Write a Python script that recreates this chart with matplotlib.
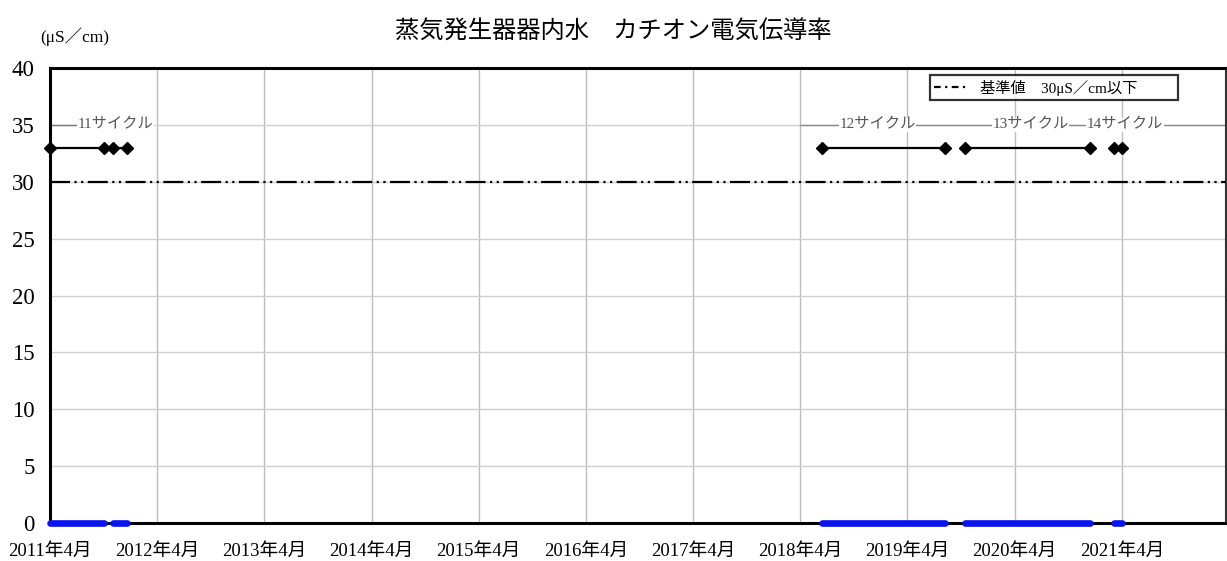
import matplotlib
matplotlib.use("Agg")
import matplotlib.pyplot as plt
import pandas as pd

# ---------------- data ----------------
title = "蒸気発生器器内水　カチオン電気伝導率"
unit_label = "(μS／cm)"
tick_dates = ["2011-04-01", "2012-04-01", "2013-04-01", "2014-04-01", "2015-04-01",
              "2016-04-01", "2017-04-01", "2018-04-01", "2019-04-01", "2020-04-01",
              "2021-04-01"]
tick_labels = ["2011年4月", "2012年4月", "2013年4月", "2014年4月", "2015年4月",
               "2016年4月", "2017年4月", "2018年4月", "2019年4月", "2020年4月",
               "2021年4月"]
y_ticks = [0, 5, 10, 15, 20, 25, 30, 35, 40]

cycle_names = ["11サイクル", "12サイクル", "13サイクル", "14サイクル"]
# operation periods (start, end) per cycle
periods_11 = [("2011-04-01", "2011-10-01"), ("2011-11-01", "2011-12-20")]
periods_12 = [("2018-06-14", "2019-08-07")]
periods_13 = [("2019-10-15", "2020-12-14")]
periods_14 = [("2021-03-06", "2021-04-03")]
cycle_periods = [periods_11, periods_12, periods_13, periods_14]

# measured cation conductivity during operation (at/near 0 μS/cm)
conductivity_value = 0.0
cycle_marker_level = 33
limit_value = 30
legend_label = "基準値　30μS／cm以下"

# ---------------- drawing ----------------
FAM = ["Liberation Serif", "Noto Sans CJK JP"]
plt.rcParams["font.family"] = FAM

W, H = 1227, 561
fig = plt.figure(figsize=(W / 100, H / 100), dpi=100)
ax_l, ax_r, ax_t, ax_b = 50, 1226, 68, 523
ax = fig.add_axes([ax_l / W, 1 - ax_b / H, (ax_r - ax_l) / W, (ax_b - ax_t) / H])

x0 = pd.Timestamp("2011-04-01")
x1 = pd.Timestamp("2022-03-22")
ax.set_xlim(x0, x1)
ax.set_ylim(0, 40)

ticks = [pd.Timestamp(d) for d in tick_dates]
ax.set_xticks(ticks)
ax.set_xticklabels(tick_labels, fontsize=13.5, family=FAM)
ax.set_yticks(y_ticks)
ax.set_yticklabels([str(v) for v in y_ticks], fontsize=16.5, family=FAM)
ax.tick_params(axis="both", length=0)
ax.tick_params(axis="x", pad=14)
ax.tick_params(axis="y", pad=11)

ax.grid(True, axis="x", color="#bdbdbd", lw=1.0, zorder=0)
ax.grid(True, axis="y", color="#cfcfcf", lw=1.0, zorder=0)
ax.set_axisbelow(True)

for side in ["left", "top", "bottom"]:
    ax.spines[side].set_linewidth(2.2)
    ax.spines[side].set_color("black")
ax.spines["right"].set_linewidth(1.5)
ax.spines["right"].set_color("#333333")

# limit line
ax.axhline(limit_value, color="black", lw=1.6,
           linestyle=(0, (9, 2, 1, 2, 1, 2)), zorder=3)
# legend handle (dash-dot)
ax.plot([], [], color="black", lw=1.6, linestyle=(0, (3, 2, 1, 2)),
        label=legend_label)

# cycle lines with diamonds and blue operation bars
for periods in cycle_periods:
    pts = []
    for s, e in periods:
        pts += [pd.Timestamp(s), pd.Timestamp(e)]
        ax.plot([pd.Timestamp(s), pd.Timestamp(e)],
                [conductivity_value, conductivity_value],
                color="#0a14f0", lw=4.8, solid_capstyle="round",
                clip_on=False, zorder=5)
    ax.plot(pts, [cycle_marker_level] * len(pts), color="black", lw=1.6,
            marker="D", markersize=6.5, clip_on=False, zorder=5)

# cycle labels on the 35 line
lab_col = "#555555"
ax.plot([x0, pd.Timestamp("2011-07-05")], [35, 35], color="#777777", lw=1.0, zorder=2)
ax.plot([pd.Timestamp("2018-04-01"), x1], [35, 35], color="#8a8a8a", lw=1.0, zorder=2)
label_pos = ["2011-11-10", "2018-12-20", "2020-05-25", "2021-04-12"]
for name, d in zip(cycle_names, label_pos):
    ax.text(pd.Timestamp(d), 35, name, ha="center", va="center", fontsize=11,
            color=lab_col, family=FAM, zorder=4,
            bbox=dict(facecolor="white", edgecolor="none", pad=0.5))

# legend
leg = ax.legend(loc="center", bbox_to_anchor=(0.7415, 0.925, 0.2245, 0.064),
                mode="expand", frameon=True, fancybox=False,
                handlelength=2.2, borderpad=0.3, handletextpad=0.8,
                prop={"family": FAM, "size": 11})
leg.get_frame().set_edgecolor("black")
leg.get_frame().set_linewidth(1.6)

# title and unit
fig.text(0.5, 1 - 32 / H, title, ha="center", va="center", fontsize=17.5,
         family=["Noto Sans CJK JP"])
fig.text(40 / W, 1 - 37 / H, unit_label, ha="left", va="center", fontsize=12.5,
         family=FAM)

fig.savefig("out.png", dpi=100)
